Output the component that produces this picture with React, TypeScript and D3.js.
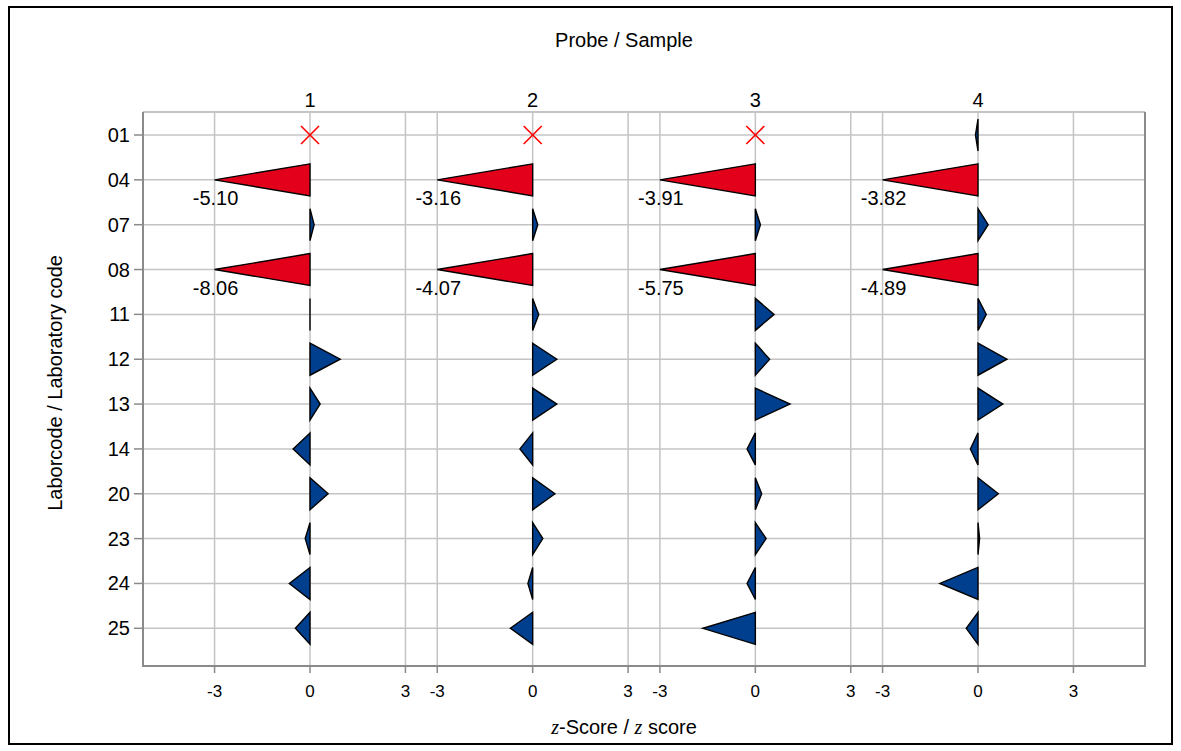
import React from "react";
import * as d3 from "d3";

// Laboratory codes (rows, top to bottom)
const LAB_CODES = ["01", "04", "07", "08", "11", "12", "13", "14", "20", "23", "24", "25"];
// Samples (panels, left to right)
const SAMPLES = ["1", "2", "3", "4"];
// z scores per sample, one entry per laboratory code (null = no result)
const Z_SAMPLE_1 = [null, -5.1, 0.13, -8.06, 0.0, 0.95, 0.32, -0.53, 0.57, -0.15, -0.65, -0.46];
const Z_SAMPLE_2 = [null, -3.16, 0.16, -4.07, 0.19, 0.76, 0.76, -0.4, 0.7, 0.32, -0.15, -0.7];
const Z_SAMPLE_3 = [null, -3.91, 0.16, -5.75, 0.59, 0.45, 1.09, -0.26, 0.2, 0.34, -0.26, -1.65];
const Z_SAMPLE_4 = [-0.08, -3.82, 0.32, -4.89, 0.26, 0.91, 0.78, -0.24, 0.64, 0.05, -1.2, -0.37];
const Z_BY_SAMPLE = [Z_SAMPLE_1, Z_SAMPLE_2, Z_SAMPLE_3, Z_SAMPLE_4];
// z-axis ticks repeated in every panel
const Z_TICKS = [-3, 0, 3];

const W = 1181;
const H = 751;
const FRAME = { left: 143, right: 1145, top: 112, bottom: 666 };
const PANEL_STEP = 7; // z units between panel centres
const HALF = 5.25; // z units of margin left/right of outer panels
const Z_LIMIT = 3;
const TRI_HALF = 16;

const FONT = "Arial, 'Liberation Sans', Helvetica, sans-serif";
const SERIF = "'Times New Roman', 'Liberation Serif', serif";
const GRID = "#c4c4c4";
const AXIS = "#8a8a8a";
const RED = "#e2001a";
const BLUE = "#003e8e";

export default function App() {
  const x = d3
    .scaleLinear()
    .domain([-HALF, PANEL_STEP * (SAMPLES.length - 1) + HALF])
    .range([FRAME.left, FRAME.right]);
  const y = d3.scalePoint<string>().domain(LAB_CODES).range([135, 628.3]);

  const px = (panel: number, z: number) => x(panel * PANEL_STEP + z);

  return (
    <svg
      width={W}
      height={H}
      style={{ position: "absolute", left: 0, top: 0, background: "#fff" }}
      fontFamily={FONT}
    >
      <rect x={0} y={0} width={W} height={H} fill="#fff" />
      <rect x={9} y={7} width={1163} height={737} fill="none" stroke="#000" strokeWidth={2} />

      {/* title */}
      <text x={624} y={47} textAnchor="middle" fontSize={20}>
        Probe / Sample
      </text>

      {/* horizontal grid */}
      {LAB_CODES.map((c) => (
        <line key={"hg" + c} x1={FRAME.left} x2={FRAME.right} y1={y(c)} y2={y(c)} stroke={GRID} strokeWidth={1.5} />
      ))}
      {/* vertical grid */}
      {SAMPLES.map((s, i) =>
        Z_TICKS.map((t) => (
          <line
            key={"vg" + s + t}
            x1={px(i, t)}
            x2={px(i, t)}
            y1={FRAME.top}
            y2={FRAME.bottom}
            stroke={GRID}
            strokeWidth={1.5}
          />
        ))
      )}
      {/* frame top */}
      <line x1={FRAME.left} x2={FRAME.right} y1={FRAME.top} y2={FRAME.top} stroke={GRID} strokeWidth={2} />
      {/* axes */}
      <line x1={FRAME.left} x2={FRAME.left} y1={FRAME.top} y2={FRAME.bottom + 1} stroke={AXIS} strokeWidth={2} />
      <line x1={FRAME.right} x2={FRAME.right} y1={FRAME.top} y2={FRAME.bottom + 1} stroke={AXIS} strokeWidth={2} />
      <line x1={FRAME.left} x2={FRAME.right} y1={FRAME.bottom} y2={FRAME.bottom} stroke={AXIS} strokeWidth={2} />

      {/* y ticks and labels */}
      {LAB_CODES.map((c) => (
        <g key={"yt" + c}>
          <line x1={FRAME.left - 9} x2={FRAME.left} y1={y(c)} y2={y(c)} stroke={AXIS} strokeWidth={1.5} />
          <text x={130} y={y(c)} dy="0.35em" textAnchor="end" fontSize={20}>
            {c}
          </text>
        </g>
      ))}

      {/* x ticks and labels */}
      {SAMPLES.map((s, i) =>
        Z_TICKS.map((t) => (
          <g key={"xt" + s + t}>
            <line x1={px(i, t)} x2={px(i, t)} y1={FRAME.bottom} y2={FRAME.bottom + 7} stroke={AXIS} strokeWidth={1.5} />
            <text x={px(i, t)} y={697} textAnchor="middle" fontSize={17}>
              {t}
            </text>
          </g>
        ))
      )}

      {/* panel labels */}
      {SAMPLES.map((s, i) => (
        <text key={"pl" + s} x={px(i, 0)} y={107} textAnchor="middle" fontSize={20}>
          {s}
        </text>
      ))}

      {/* z-score triangles */}
      {Z_BY_SAMPLE.map((vals, i) =>
        vals.map((v, r) => {
          const cy = y(LAB_CODES[r]) as number;
          const x0 = px(i, 0);
          if (v === null) {
            const s = 9;
            return (
              <g key={"m" + i + r} stroke="#ff0000" strokeWidth={1.6}>
                <line x1={x0 - s} x2={x0 + s} y1={cy - s} y2={cy + s} />
                <line x1={x0 - s} x2={x0 + s} y1={cy + s} y2={cy - s} />
              </g>
            );
          }
          const out = Math.abs(v) > Z_LIMIT;
          const zc = Math.max(-Z_LIMIT, Math.min(Z_LIMIT, v));
          const xt = px(i, zc);
          const path = d3.path();
          path.moveTo(x0, cy - TRI_HALF);
          path.lineTo(xt, cy);
          path.lineTo(x0, cy + TRI_HALF);
          path.closePath();
          return (
            <g key={"t" + i + r}>
              <path d={path.toString()} fill={out ? RED : BLUE} stroke="#000" strokeWidth={1.4} strokeLinejoin="miter" />
              {out && (
                <text x={xt + 1} y={cy + 25} textAnchor="middle" fontSize={20}>
                  {v.toFixed(2)}
                </text>
              )}
            </g>
          );
        })
      )}

      {/* axis titles */}
      <text x={624} y={734} textAnchor="middle" fontSize={20}>
        <tspan fontFamily={SERIF} fontStyle="italic">z</tspan>
        <tspan>-Score / </tspan>
        <tspan fontFamily={SERIF} fontStyle="italic">z</tspan>
        <tspan> score</tspan>
      </text>
      <text transform="translate(62,383) rotate(-90)" textAnchor="middle" fontSize={20}>
        Laborcode / Laboratory code
      </text>
    </svg>
  );
}
